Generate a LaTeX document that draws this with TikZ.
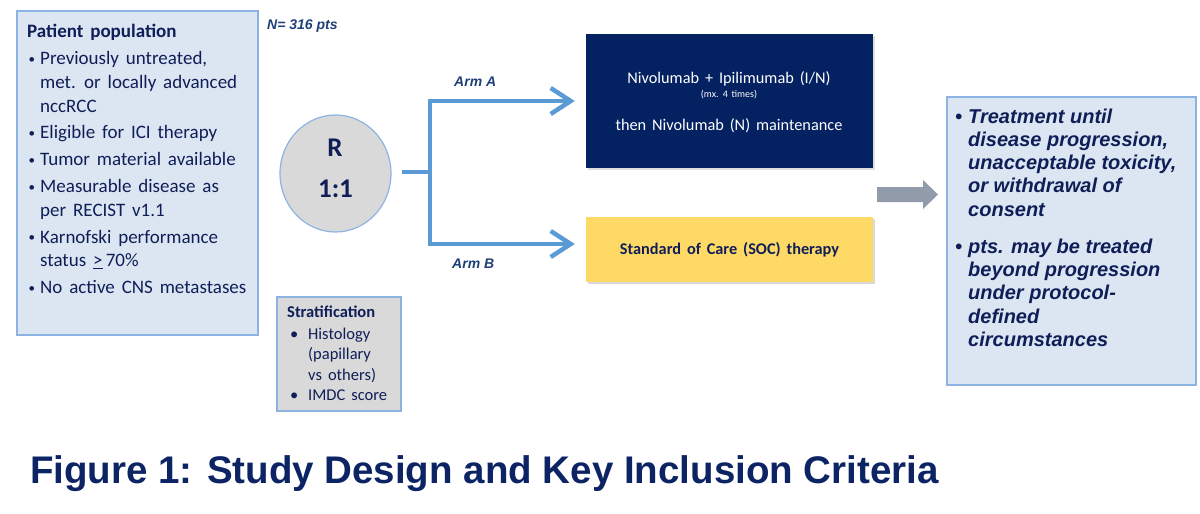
\documentclass[tikz,border=0pt]{standalone}
\usepackage{fontspec}
\setmainfont{Carlito}[WordSpace=1.6]
\newfontfamily\arial{Liberation Sans}[WordSpace=1.4]
\newfontfamily\arialtitle{Liberation Sans}
\usetikzlibrary{arrows.meta,shapes.geometric,shadows,calc}
\definecolor{boxblue}{RGB}{220,230,242}
\definecolor{boxline}{RGB}{141,179,226}
\definecolor{navytext}{RGB}{16,30,88}
\definecolor{darkbox}{RGB}{4,33,98}
\definecolor{yellowbox}{RGB}{255,217,102}
\definecolor{circgrey}{RGB}{217,217,217}
\definecolor{connblue}{RGB}{91,155,213}
\definecolor{arrgrey}{RGB}{145,155,170}
\definecolor{titlenavy}{RGB}{12,36,100}
\definecolor{armblue}{RGB}{30,64,118}
\newcommand{\bul}[2]{\hspace*{#1}\makebox[#2][l]{\textbullet}}
\newcommand{\smallbul}[2]{\hspace*{#1}\makebox[#2][l]{\raisebox{1.5pt}{\fontsize{13}{13}\selectfont\textbullet}}}
\tikzset{
  panel/.style={draw=boxline, line width=1.2pt, fill=boxblue, inner sep=0pt},
  greypanel/.style={draw=boxline, line width=1.2pt, fill=circgrey, inner sep=0pt},
  txt/.style={inner sep=0pt, text=navytext},
  wtxt/.style={inner sep=0pt, text=white},
  armlabel/.style={inner sep=0pt, text=armblue, font=\arial\bfseries\itshape\fontsize{14}{16}\selectfont},
  conn/.style={draw=connblue, line width=4.5pt, line join=miter},
  armarrow/.style={conn, -{Straight Barb[length=20pt,width=26pt]}, shorten >=11pt},
}
\begin{document}
\begin{tikzpicture}[x=1pt,y=-1pt]
\useasboundingbox (0,0) rectangle (1200,514);

% patient population
\node[panel, minimum width=241pt, minimum height=324pt] (pop) at (137.5,173) {};
\node[txt, anchor=base west, font=\fontsize{19}{23.5}\selectfont] (poptext) at (27,37) {%
\begin{tabular}[t]{@{}l@{}}
\textbf{Patient population}\\[4.5pt]
\smallbul{1.5pt}{11.5pt}Previously untreated,\\
\hspace*{13pt}met. or locally advanced\\
\hspace*{13pt}nccRCC\\[3.5pt]
\smallbul{1.5pt}{11.5pt}Eligible for ICI therapy\\[3.5pt]
\smallbul{1.5pt}{11.5pt}Tumor material available\\[3.5pt]
\smallbul{1.5pt}{11.5pt}Measurable disease as\\
\hspace*{13pt}per RECIST v1.1\\[3.5pt]
\smallbul{1.5pt}{11.5pt}Karnofski performance\\
\hspace*{13pt}status \underline{>}\,70\%\\[3.5pt]
\smallbul{1.5pt}{11.5pt}No active CNS metastases
\end{tabular}};

\node[anchor=base west, inner sep=0pt, text=armblue, font=\arial\bfseries\itshape\fontsize{14}{16}\selectfont] (npts) at (267,29) {N= 316 pts};

% randomisation circle
\node[ellipse, draw=boxline, line width=1.2pt, fill=circgrey, minimum width=111pt, minimum height=117pt, inner sep=0pt] (R) at (335.5,173.5) {};
\node[txt, anchor=base, font=\bfseries\fontsize{27}{30}\selectfont] (Rtop) at (335,156) {R};
\node[txt, anchor=base, font=\bfseries\fontsize{27}{30}\selectfont] (Rbot) at (335.5,197.5) {1:1};

% stratification
\node[greypanel, minimum width=124pt, minimum height=114pt] (strat) at (339,354) {};
\node[txt, anchor=base west, font=\fontsize{16.5}{20.6}\selectfont] (strattext) at (287,317) {%
\begin{tabular}[t]{@{}l@{}}
\textbf{Stratification}\\[1.4pt]
\bul{3pt}{18pt}Histology\\
\hspace*{21pt}(papillary\\
\hspace*{21pt}vs others)\\
\bul{3pt}{18pt}IMDC score
\end{tabular}};

% arms
\node[fill=darkbox, minimum width=287pt, minimum height=134pt, inner sep=0pt, drop shadow={opacity=0.25, shadow xshift=1.5pt, shadow yshift=-2pt}] (armA) at (729.5,101) {};
\node[wtxt, anchor=base, font=\fontsize{16.3}{19}\selectfont] (a1) at (729,83) {Nivolumab + Ipilimumab (I/N)};
\node[wtxt, anchor=base, font=\fontsize{10}{12}\selectfont] (a2) at (729,97) {(mx. 4 times)};
\node[wtxt, anchor=base, font=\fontsize{16.3}{19}\selectfont] (a3) at (729,130) {then Nivolumab (N) maintenance};

\node[fill=yellowbox, minimum width=287pt, minimum height=65pt, inner sep=0pt, drop shadow={opacity=0.3, shadow xshift=1.5pt, shadow yshift=-2pt}] (armB) at (729.5,249.5) {};
\node[txt, anchor=base, font=\bfseries\fontsize{16.3}{19}\selectfont] (b1) at (729.5,254) {Standard of Care (SOC) therapy};

\node[armlabel, anchor=base west] (labA) at (454,86) {Arm A};
\node[armlabel, anchor=base west] (labB) at (452,268) {Arm B};

% connectors
\coordinate (stub) at (402,172);
\coordinate (split) at (430,172);
\draw[conn] (stub) -- (split);
\draw[armarrow] (split) |- (armA.west);
\draw[armarrow] (split) |- ($(armB.west)+(0,-5.5)$);

% grey block arrow
\coordinate (g1) at (877,187);
\fill[arrgrey] (g1) -- (923,187) -- (923,180) -- (938,194.5) -- (923,209) -- (923,202) -- (877,202) -- cycle;

% outcome panel
\node[panel, minimum width=249pt, minimum height=288pt] (out) at (1071.5,241) {};
\node[txt, anchor=base west, font=\arial\bfseries\itshape\fontsize{20}{23.3}\selectfont] (outtext) at (955,123) {%
\begin{tabular}[t]{@{}l@{}}
\bul{0pt}{13pt}Treatment until\\
\hspace*{13pt}disease progression,\\
\hspace*{13pt}unacceptable toxicity,\\
\hspace*{13pt}or withdrawal of\\
\hspace*{13pt}consent\\[13.7pt]
\bul{0pt}{13pt}pts. may be treated\\
\hspace*{13pt}beyond progression\\
\hspace*{13pt}under protocol-\\
\hspace*{13pt}defined\\
\hspace*{13pt}circumstances
\end{tabular}};

% title
\node[anchor=base west, inner sep=0pt, text=titlenavy, font=\arialtitle\bfseries\fontsize{38.5}{44}\selectfont] (title) at (30,483) {Figure 1: Study Design and Key Inclusion Criteria};
\end{tikzpicture}
\end{document}
